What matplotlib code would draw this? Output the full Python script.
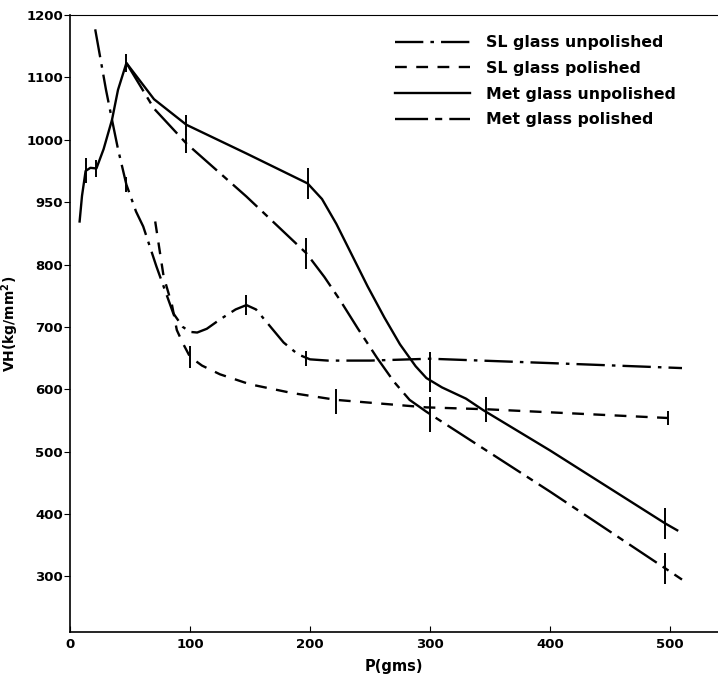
import matplotlib.pyplot as plt

# ---- DATA ----
sl_unpol_x = [21, 30, 35, 40, 47, 55, 61, 72, 86, 94, 100, 106, 114, 125, 138, 147, 155, 165, 178, 190, 200, 215,
              250, 300, 400, 510]
sl_unpol_y = [1177, 1080, 1032, 985, 928, 885, 861, 797, 722, 700, 692, 691, 697, 712, 728, 735, 728, 705, 675, 656,
              648, 646, 646, 649, 642, 634]

sl_pol_x = [71, 78, 85, 89, 94, 100, 110, 125, 150, 185, 222, 297, 347, 498]
sl_pol_y = [869, 781, 735, 695, 674, 652, 638, 624, 608, 594, 583, 571, 568, 554]

met_unpol_x = [8, 10, 13, 17, 22, 28, 35, 40, 47, 70, 97, 147, 198, 210, 222, 235, 248, 262, 275, 288, 297, 310, 330,
               344, 400, 496, 506]
met_unpol_y = [869, 910, 950, 955, 954, 985, 1032, 1080, 1123, 1065, 1024, 978, 930, 905, 865, 815, 765, 715, 672,
               637, 618, 603, 585, 567, 502, 385, 374]

met_pol_x = [47, 70, 97, 147, 197, 212, 225, 240, 256, 270, 283, 297, 400, 496, 510]
met_pol_y = [1123, 1050, 994, 909, 818, 780, 743, 697, 650, 612, 583, 564, 436, 313, 295]

# vertical bars: x, centre, half-length
bar_x = [13, 22, 47, 97, 198, 300, 496,
         97, 197, 300, 496,
         47, 147, 197,
         100, 222, 347, 498]
bar_y = [950, 954, 1123, 1024, 930, 627, 385,
         994, 818, 560, 313,
         928, 735, 650,
         652, 580, 568, 554]
bar_h = [20, 14, 15, 16, 25, 32, 25,
         16, 25, 28, 25,
         12, 16, 12,
         18, 20, 20, 12]

yticks = [300, 400, 500, 600, 700, 800, 900, 1000, 1100, 1200]
ytick_labels = ["300", "400", "500", "600", "700", "800", "950", "1000", "1100", "1200"]
xticks = [0, 100, 200, 300, 400, 500]

plt.rcParams['font.family'] = ['DejaVu Sans']
plt.rcParams['font.weight'] = 'bold'

fig = plt.figure(figsize=(7.18, 6.81), dpi=100)
ax = fig.add_axes([0.0975, 0.072, 0.9025, 0.906])

lw = 1.7
ax.plot(sl_unpol_x, sl_unpol_y, color="black", linewidth=lw,
        linestyle=(0, (12, 3, 1.5, 3)), label="SL glass unpolished")
ax.plot(sl_pol_x, sl_pol_y, color="black", linewidth=lw,
        linestyle=(0, (5, 4)), label="SL glass polished")
ax.plot(met_unpol_x, met_unpol_y, color="black", linewidth=lw,
        linestyle="-", label="Met glass unpolished")
ax.plot(met_pol_x, met_pol_y, color="black", linewidth=lw,
        linestyle=(0, (14, 3, 3, 3)), label="Met glass polished")

ax.vlines(bar_x, [c - h for c, h in zip(bar_y, bar_h)],
          [c + h for c, h in zip(bar_y, bar_h)], color="black", linewidth=1.4)

ax.set_xlim(0, 540)
ax.set_ylim(211, 1200)

ax.set_xticks(xticks)
ax.set_yticks(yticks)
ax.set_yticklabels(ytick_labels)
ax.tick_params(axis='x', direction='in', length=4, labelsize=9.5, pad=4)
ax.tick_params(axis='y', direction='out', length=4, labelsize=9.5, pad=1)

ax.spines['right'].set_visible(False)
ax.spines['top'].set_linewidth(0.8)
ax.spines['left'].set_linewidth(1.2)
ax.spines['bottom'].set_linewidth(1.2)

ax.set_xlabel("P(gms)", fontsize=10.5, fontweight='bold', labelpad=6)
ax.set_ylabel("VH(kg/mm$^\\mathbf{2}$)", fontsize=10, fontweight='bold')
ax.yaxis.set_label_coords(-0.075, 0.5)

leg = ax.legend(loc="upper right", bbox_to_anchor=(0.957, 0.99), frameon=False,
                fontsize=11.3, handlelength=4.8, handletextpad=1.0,
                labelspacing=0.68)
for t in leg.get_texts():
    t.set_fontweight('bold')

fig.savefig("out.png", dpi=100)
